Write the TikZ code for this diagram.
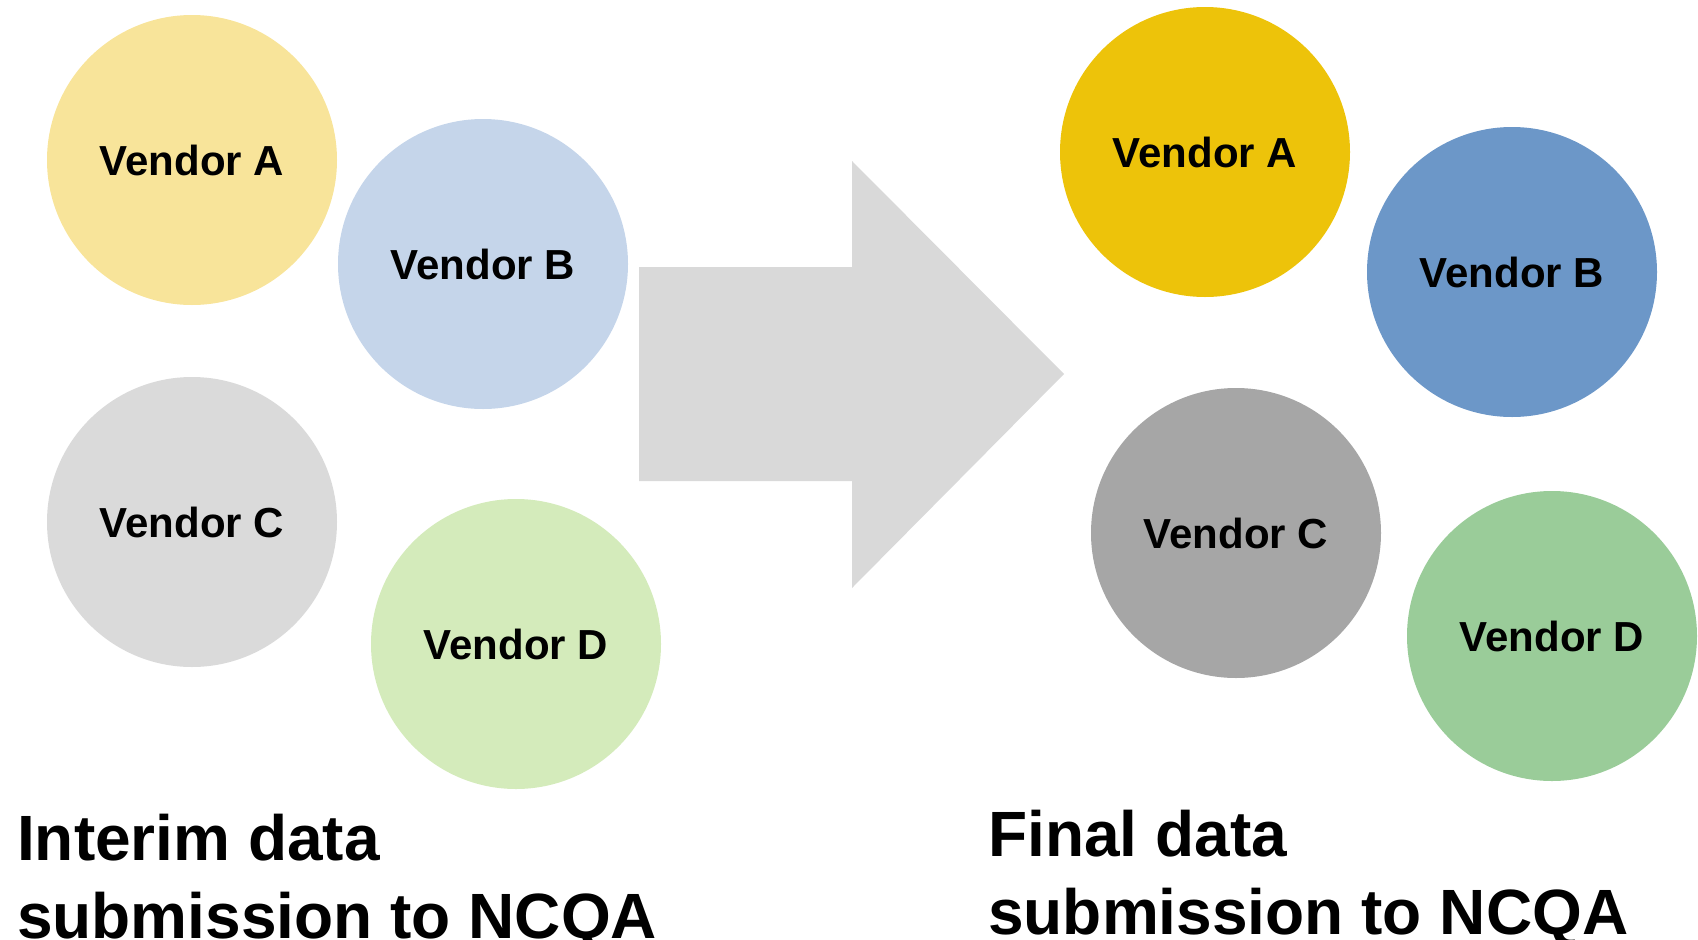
\documentclass[tikz,border=0pt]{standalone}
\usepackage{fontspec}
\setmainfont{Liberation Sans}
\usepackage{xcolor}
\definecolor{interimA}{HTML}{F8E49A}
\definecolor{interimB}{HTML}{C5D5EA}
\definecolor{interimC}{HTML}{DADADA}
\definecolor{interimD}{HTML}{D4EBBB}
\definecolor{finalA}{HTML}{EDC30A}
\definecolor{finalB}{HTML}{6C97C8}
\definecolor{finalC}{HTML}{A6A6A6}
\definecolor{finalD}{HTML}{9ACC99}
\definecolor{arrowgray}{HTML}{D9D9D9}
\newcommand{\vendorbubble}[3]{%
  \node[circle, fill=#2, draw=none, inner sep=0pt, minimum size=290pt,
        font=\fontsize{42}{48}\selectfont\bfseries] (#1) at #3 }

\begin{document}
\begin{tikzpicture}[x=1pt, y=-1pt]
\useasboundingbox (0,0) rectangle (1698,940);

\vendorbubble{intA}{interimA}{(192,160)} {Vendor A};
\vendorbubble{intB}{interimB}{(483,264)} {Vendor B};
\vendorbubble{intC}{interimC}{(192,522)} {Vendor C};
\vendorbubble{intD}{interimD}{(516,644)} {Vendor D};

\fill[arrowgray] (639,267) -- (852,267) -- (852,161) -- (1064,374)
  -- (852,588) -- (852,481) -- (639,481) -- cycle;

\vendorbubble{finA}{finalA}{(1205,152)} {Vendor A};
\vendorbubble{finB}{finalB}{(1512,272)} {Vendor B};
\vendorbubble{finC}{finalC}{(1236,533)} {Vendor C};
\vendorbubble{finD}{finalD}{(1552,636)} {Vendor D};

\node[anchor=base west, align=left, inner sep=0pt,
      font=\fontsize{64}{78}\selectfont\bfseries] (interimtext) at (17,938)
  {Interim data\\submission to NCQA};
\node[anchor=base west, align=left, inner sep=0pt,
      font=\fontsize{64}{78}\selectfont\bfseries] (finaltext) at (988,934)
  {Final data\\submission to NCQA};

\end{tikzpicture}
\end{document}
